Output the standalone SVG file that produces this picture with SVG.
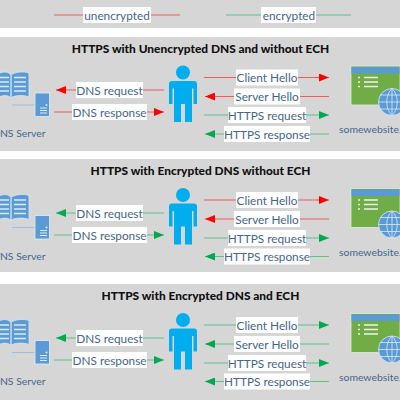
<svg xmlns="http://www.w3.org/2000/svg" width="400" height="400" viewBox="0 0 400 400">
<style>
text{font-family:Lato,"Liberation Sans",sans-serif}
.l{font-size:11.800px;fill:#44668c;text-anchor:middle}
.c{font-size:10.400px;fill:#44668c}
.t{font-size:11.900px;font-weight:900;fill:#111;text-anchor:middle}
.p{fill:#d6d6d6}
.lb{fill:#fff}
.r{stroke:#f05a5a;stroke-width:1;fill:none}
.g{stroke:#5cc08a;stroke-width:1;fill:none}
</style>
<defs>
<marker id="ar" markerUnits="userSpaceOnUse" markerWidth="10" markerHeight="8" refX="10" refY="4" orient="auto-start-reverse"><path d="M0 0L10 4L0 8Z" fill="#f00"/></marker>
<marker id="ag" markerUnits="userSpaceOnUse" markerWidth="10" markerHeight="8" refX="10" refY="4" orient="auto-start-reverse"><path d="M0 0L10 4L0 8Z" fill="#00a850"/></marker>
<g id="dns">
<path d="M-1 73.500C4 71 9 72 11 75V98C8 95 4 95 -1 97ZM29 73C24 71 14 72 11 75V98C14 95 24 95 29 97Z" fill="#5b9bd5" stroke="#d9e6f2" stroke-width=".8"/>
<path d="M-1 77.500H9M-1 82H9M-1 86.500H9M-1 91H9M14 77.500H26M14 82H26M14 86.500H26M14 91H26" stroke="#dce9f5" stroke-width="1.500"/>
<path d="M12 105H35" stroke="#9dbcd8" stroke-width="1"/>
<rect x="35" y="93" width="14.500" height="23.500" fill="#5b9bd5" stroke="#e3edf6" stroke-width=".8"/>
<path d="M40 108H47M40 110.500H47M40 113H47" stroke="#dce9f5" stroke-width="1"/>
<circle cx="46.500" cy="105" r="1" fill="#dce9f5"/>
<text class="c" x="45.500" y="137" text-anchor="end">DNS Server</text>
</g>
<g id="user">
<circle cx="183" cy="72.500" r="7" fill="#00adef"/>
<path d="M172 81H194Q197 81 197 84V104H193.500V88.500H192V122H185V104H181V122H174V88.500H172.500V104H169V84Q169 81 172 81Z" fill="#00adef"/>
</g>
<g id="site">
<rect x="351" y="66" width="49" height="39" fill="#70ad47" stroke="#e2e8dc" stroke-width=".8"/>
<rect x="351.500" y="67" width="48" height="6.500" fill="#5b9bd5"/>
<path d="M358 77.500H360M358 82H360M358 86.500H360M364 77.500H378M364 82H378M364 86.500H378" stroke="#eef3ea" stroke-width="1.500"/>
<circle cx="392" cy="102" r="13.500" fill="#5b9bd5" stroke="#dce9f5" stroke-width=".8"/>
<path d="M378.500 102H405.500M380 95H404M380 109H404M392 88.500V115.500M392 88.500C385 95 385 109 392 115.500M392 88.500C399 95 399 109 392 115.500" fill="none" stroke="#dce9f5" stroke-width=".8"/>
<text class="c" x="339" y="133">somewebsite.</text>
</g>
</defs>

<rect class="p" x="0" y="0" width="400" height="28"/>
<rect class="p" x="0" y="37" width="400" height="114"/>
<rect class="p" x="0" y="159" width="400" height="113"/>
<rect class="p" x="0" y="284" width="400" height="116"/>

<g id="connectors">
<path class="r" d="M54 15H180"/>
<path class="g" d="M226 15H351"/>

<path class="r" d="M164 90H56" marker-end="url(#ar)"/>
<path class="r" d="M54 112H164" marker-end="url(#ar)"/>
<path class="r" d="M204 77.500H329" marker-end="url(#ar)"/>
<path class="r" d="M329 96.500H205" marker-end="url(#ar)"/>
<path class="g" d="M204 115H329" marker-end="url(#ag)"/>
<path class="g" d="M329 134H205" marker-end="url(#ag)"/>

<path class="g" d="M164 213H56" marker-end="url(#ag)"/>
<path class="g" d="M54 235H164" marker-end="url(#ag)"/>
<path class="r" d="M204 200H329" marker-end="url(#ar)"/>
<path class="r" d="M329 219H205" marker-end="url(#ar)"/>
<path class="g" d="M204 238H329" marker-end="url(#ag)"/>
<path class="g" d="M329 256.500H205" marker-end="url(#ag)"/>

<path class="g" d="M164 338H56" marker-end="url(#ag)"/>
<path class="g" d="M54 360H164" marker-end="url(#ag)"/>
<path class="g" d="M204 325H329" marker-end="url(#ag)"/>
<path class="g" d="M329 344H205" marker-end="url(#ag)"/>
<path class="g" d="M204 363H329" marker-end="url(#ag)"/>
<path class="g" d="M329 381.500H205" marker-end="url(#ag)"/>
</g>

<g id="legend">
<rect class="lb" x="83" y="7" width="68" height="16"/><text class="l" x="117" y="19.500">unencrypted</text>
<rect class="lb" x="261" y="7" width="55" height="16"/><text class="l" x="289" y="19.500">encrypted</text>
</g>

<g id="panel1">
<text class="t" x="200.500" y="52.500">HTTPS with Unencrypted DNS and without ECH</text>
<g id="dns1"><use href="#dns"/></g><g id="user1"><use href="#user"/></g><g id="site1"><use href="#site"/></g>
<g class="labels">
<rect class="lb" x="76" y="82" width="67" height="16"/><text class="l" x="109.500" y="94.500">DNS request</text>
<rect class="lb" x="72" y="104" width="75" height="16"/><text class="l" x="109.500" y="116.500">DNS response</text>
<rect class="lb" x="236" y="69.500" width="62" height="16"/><text class="l" x="267" y="82">Client Hello</text>
<rect class="lb" x="234" y="88.500" width="66" height="16"/><text class="l" x="267" y="101">Server Hello</text>
<rect class="lb" x="228" y="107" width="78" height="16"/><text class="l" x="267" y="119.500">HTTPS request</text>
<rect class="lb" x="224" y="126" width="86" height="16"/><text class="l" x="267" y="138.500">HTTPS response</text>
</g>
</g>

<g id="panel2">
<text class="t" x="200.500" y="175">HTTPS with Encrypted DNS without ECH</text>
<g id="dns2" transform="translate(0 122.500)"><use href="#dns"/></g><g id="user2" transform="translate(0 122.500)"><use href="#user"/></g><g id="site2" transform="translate(0 122.500)"><use href="#site"/></g>
<g class="labels">
<rect class="lb" x="76" y="205" width="67" height="16"/><text class="l" x="109.500" y="217.500">DNS request</text>
<rect class="lb" x="72" y="227" width="75" height="16"/><text class="l" x="109.500" y="239.500">DNS response</text>
<rect class="lb" x="236" y="192" width="62" height="16"/><text class="l" x="267" y="204.500">Client Hello</text>
<rect class="lb" x="234" y="211" width="66" height="16"/><text class="l" x="267" y="223.500">Server Hello</text>
<rect class="lb" x="228" y="230" width="78" height="16"/><text class="l" x="267" y="242.500">HTTPS request</text>
<rect class="lb" x="224" y="248.500" width="86" height="16"/><text class="l" x="267" y="261">HTTPS response</text>
</g>
</g>

<g id="panel3">
<text class="t" x="200.500" y="300">HTTPS with Encrypted DNS and ECH</text>
<g id="dns3" transform="translate(0 247.500)"><use href="#dns"/></g><g id="user3" transform="translate(0 247.500)"><use href="#user"/></g><g id="site3" transform="translate(0 247.500)"><use href="#site"/></g>
<g class="labels">
<rect class="lb" x="76" y="330" width="67" height="16"/><text class="l" x="109.500" y="342.500">DNS request</text>
<rect class="lb" x="72" y="352" width="75" height="16"/><text class="l" x="109.500" y="364.500">DNS response</text>
<rect class="lb" x="236" y="317" width="62" height="16"/><text class="l" x="267" y="329.500">Client Hello</text>
<rect class="lb" x="234" y="336" width="66" height="16"/><text class="l" x="267" y="348.500">Server Hello</text>
<rect class="lb" x="228" y="355" width="78" height="16"/><text class="l" x="267" y="367.500">HTTPS request</text>
<rect class="lb" x="224" y="373.500" width="86" height="16"/><text class="l" x="267" y="386">HTTPS response</text>
</g>
</g>
</svg>
